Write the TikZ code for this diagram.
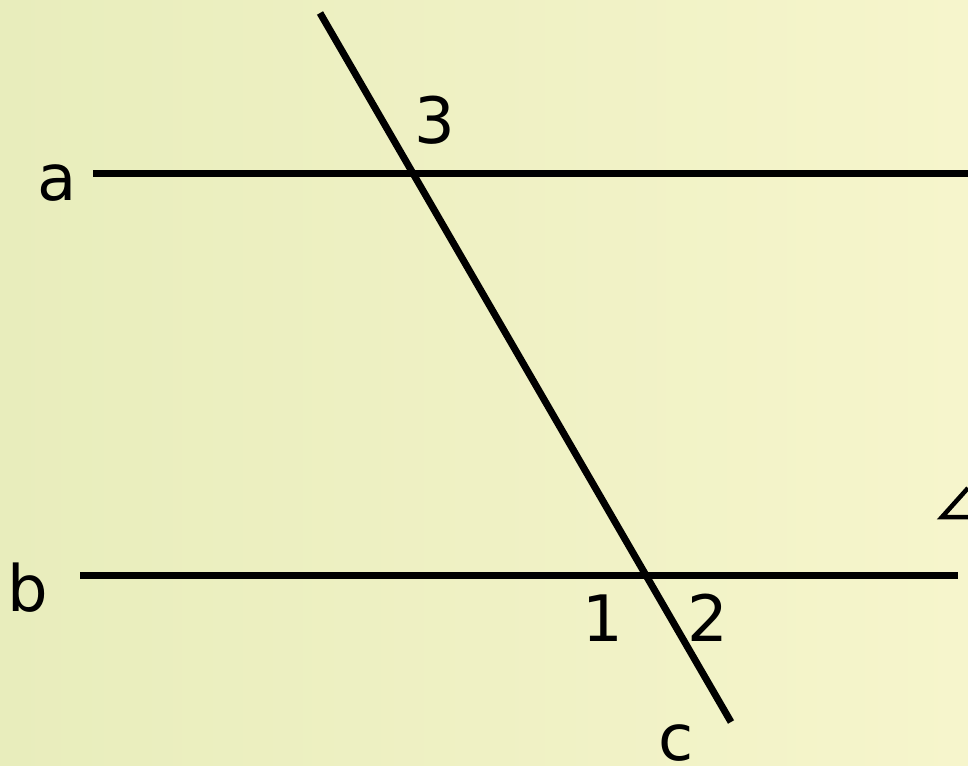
\documentclass[tikz,border=0pt]{standalone}
\usepackage{fontspec}
\setmainfont{DejaVu Sans}
\definecolor{bgleft}{RGB}{232,237,188}
\definecolor{bgright}{RGB}{246,245,204}
\begin{document}
\begin{tikzpicture}[x=1pt,y=-1pt,
  geoline/.style={line width=7pt,black},
  lbl/.style={inner sep=0pt,font=\fontsize{64}{64}\selectfont}]
\useasboundingbox (0,0) rectangle (968,765);
\shade[left color=bgleft,right color=bgright] (0,0) rectangle (968,765);
% lines
\coordinate (aL) at (93,173);
\coordinate (aR) at (968,173);
\coordinate (bL) at (80,575);
\coordinate (bR) at (958,575);
\coordinate (cT) at (320,13);
\coordinate (cB) at (731,722);
\draw[geoline] (aL) -- (aR);
\draw[geoline] (bL) -- (bR);
\draw[geoline] (cT) -- (cB);
% partial triangle at right edge
\coordinate (tA) at (968,488);
\coordinate (tB) at (942,517);
\coordinate (tC) at (968,517);
\draw[line width=4.5pt,line join=miter] (tA) -- (tB) -- (tC);
% labels
\node[lbl] (la) at (57,183) {a};
\node[lbl] (lb) at (28,588) {b};
\node[lbl] (l3) at (435,120) {3};
\node[lbl] (l1) at (603,618) {1};
\node[lbl] (l2) at (708,618) {2};
\node[lbl] (lc) at (676,743) {c};
\end{tikzpicture}
\end{document}
